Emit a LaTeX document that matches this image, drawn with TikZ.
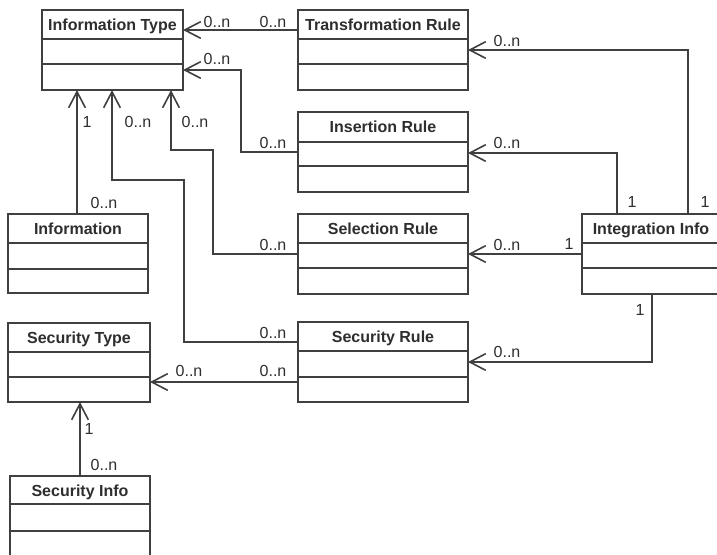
\documentclass[tikz,border=0pt]{standalone}
\usepackage{fontspec}
\setmainfont{Liberation Sans}
\usetikzlibrary{calc,arrows.meta}
\definecolor{lncol}{HTML}{404040}
\definecolor{txcol}{HTML}{2E2E2E}
\tikzset{
  cls/.style={draw=lncol, line width=1.2pt, fill=white, inner sep=0pt, outer sep=0pt},
  clstitle/.style={font=\fontsize{12}{14}\selectfont\bfseries, text=txcol, inner sep=0pt, anchor=base},
  sepline/.style={draw=lncol, line width=1.2pt},
  assoc/.style={draw=lncol, line width=1.2pt, -{Straight Barb[length=12pt,width=12.5pt,line width=1.2pt]}},
  mult/.style={font=\fontsize{12}{14}\selectfont, text=txcol, inner sep=0pt},
}
\newcommand\umlcls[8]{%
  \node[cls, minimum width=#4*0.75pt, minimum height=#5*0.75pt, anchor=north west] (#1) at (#2,#3) {};
  \node[clstitle] (#1-t) at ($(#1.north)+(0,20)$) {#6};
  \draw[sepline] ($(#1.north west)+(0,#7)$) -- ($(#1.north east)+(0,#7)$);
  \draw[sepline] ($(#1.north west)+(0,#8)$) -- ($(#1.north east)+(0,#8)$);
}
\begin{document}
\begin{tikzpicture}[x=0.75pt,y=-0.75pt]
\clip (0,0) rectangle (717,554);
\fill[white] (0,0) rectangle (717,554);
% classes
\umlcls{it}{42}{10}{141}{80}{Information Type}{29}{54}
\umlcls{tr}{298}{10}{170}{80}{Transformation Rule}{29}{54}
\umlcls{ins}{298}{112}{170}{80}{Insertion Rule}{30}{54}
\umlcls{sel}{298}{214}{170}{80}{Selection Rule}{29}{54}
\umlcls{sec}{298}{322}{170}{80}{Security Rule}{29}{55}
\umlcls{ii}{582}{214}{138}{80}{Integration Info}{29}{54}
\umlcls{info}{8}{214}{140}{79}{Information}{29}{55}
\umlcls{st}{8}{323}{142}{79}{Security Type}{29}{54}
\umlcls{si}{10}{476}{140}{84}{Security Info}{28}{55}
% connectors
\draw[assoc] ($(tr.north west)+(0,20)$) -- ($(it.north east)+(0,20)$);
\draw[assoc] ($(ins.north west)+(0,40)$) -- ++(-57,0) |- ($(it.north east)+(0,60)$);
\draw[assoc] (sel.west) -| (213,150) -| ($(it.south west)+(129,0)$);
\draw[assoc] ($(sec.north west)+(0,20)$) -| (184,180) -| ($(it.south west)+(70,0)$);
\draw[assoc] ($(info.north west)+(69,0)$) -- ($(it.south west)+(35,0)$);
\draw[assoc] ($(ii.north west)+(106,0)$) |- ($(tr.north east)+(0,40)$);
\draw[assoc] ($(ii.north west)+(35,0)$) |- ($(ins.north east)+(0,41)$);
\draw[assoc] ($(ii.north west)+(0,40)$) -- ($(sel.north east)+(0,40)$);
\draw[assoc] ($(ii.south west)+(70,0)$) |- ($(sec.north east)+(0,40)$);
\draw[assoc] ($(sec.north west)+(0,60)$) -- ($(st.north east)+(0,59)$);
\draw[assoc] ($(si.north west)+(70,0)$) -- ($(st.south west)+(72,0)$);
% multiplicities
\node[mult] (m1) at (217,22) {0..n};
\node[mult] (m2) at (273,22) {0..n};
\node[mult] (m3) at (217,59) {0..n};
\node[mult] (m4) at (273,143) {0..n};
\node[mult] (m5) at (87,122) {1};
\node[mult] (m6) at (138,122) {0..n};
\node[mult] (m7) at (195,122) {0..n};
\node[mult] (m8) at (104,203) {0..n};
\node[mult] (m9) at (273,245) {0..n};
\node[mult] (m10) at (273,333) {0..n};
\node[mult] (m11) at (273,371) {0..n};
\node[mult] (m12) at (189,371) {0..n};
\node[mult] (m13) at (507,41) {0..n};
\node[mult] (m14) at (507,143) {0..n};
\node[mult] (m15) at (507,245) {0..n};
\node[mult] (m16) at (507,352) {0..n};
\node[mult] (m17) at (632,202) {1};
\node[mult] (m18) at (705,202) {1};
\node[mult] (m19) at (569,244) {1};
\node[mult] (m20) at (640,310) {1};
\node[mult] (m21) at (89,429) {1};
\node[mult] (m22) at (104,465) {0..n};
\end{tikzpicture}
\end{document}
